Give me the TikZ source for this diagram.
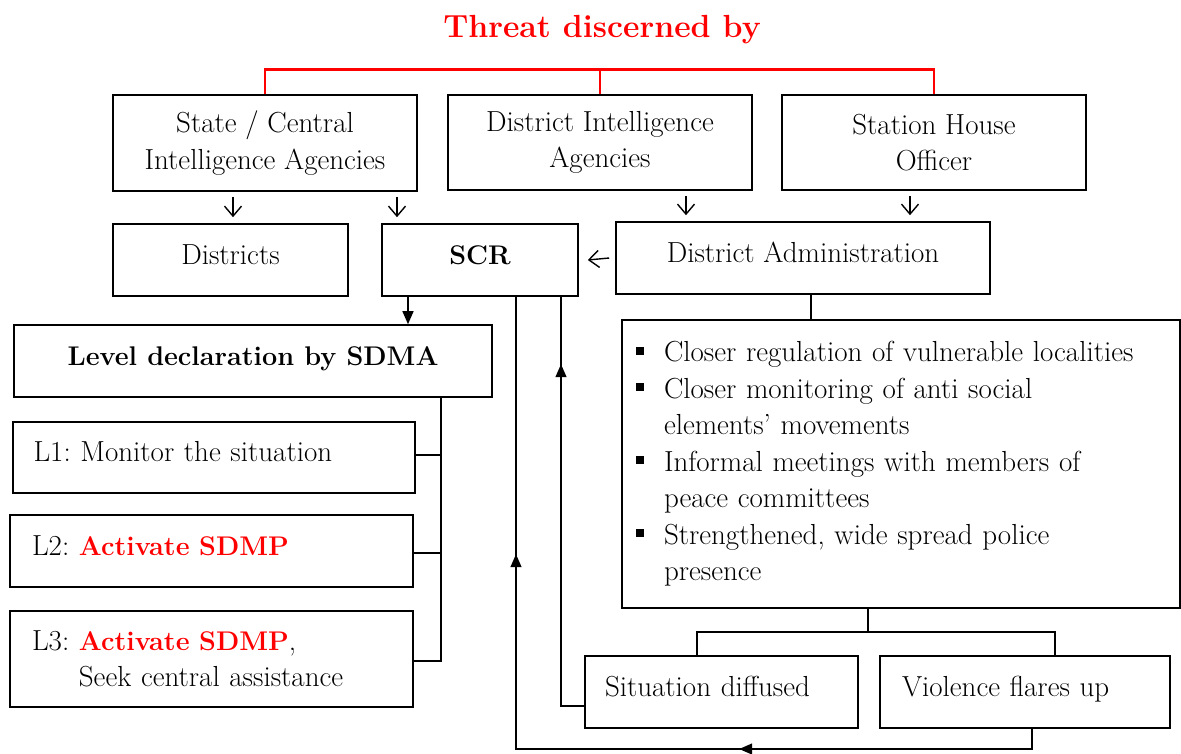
\documentclass[tikz,border=0pt]{standalone}
\usepackage{fontspec}
\usepackage{xcolor}
\usetikzlibrary{arrows.meta, decorations.markings}

\newcommand\bodyfont{\fontsize{29}{36.5}\selectfont\frenchspacing}
\newcommand\boldfont{\fontsize{27}{36.5}\selectfont\bfseries}
\newcommand\sqbullet{\makebox[28pt][l]{\rule[7pt]{8pt}{8pt}}}
\newcommand\actsdmp{\textcolor{red}{\boldfont Activate SDMP}}

\tikzset{
	box/.style={draw, line width=1.6pt, align=center, font=\bodyfont, inner sep=0pt},
	oneline/.style={text height=20pt, text depth=12pt},
	link/.style={line width=1.4pt},
	openarrow/.style={link, -{Straight Barb[length=10pt,width=17pt]}},
	fillarrow/.style={link, -{Triangle[length=13pt,width=11pt]}},
	redlink/.style={line width=2.8pt, red}
}

\begin{document}
\begin{tikzpicture}[x=1pt, y=-1pt]
	\useasboundingbox (0,0) rectangle (1181,753);
	
	\node [font=\fontsize{32}{36}\selectfont\bfseries, text=red] (title) at (602,30) {Threat discerned by};
	
	% who discerns the threat
	\node [box, minimum width=304pt, minimum height=96pt] (sc) at (265,143) {State / Central\\Intelligence Agencies};
	\node [box, minimum width=304pt, minimum height=95pt] (dia) at (600,142.5) {District Intelligence\\Agencies};
	\node [box, minimum width=304pt, minimum height=95pt] (sho) at (934,142.5) {Station House\\Officer};
	
	\node [box, oneline, minimum width=235pt, minimum height=72pt] (districts) at (230.5,260) {Districts};
	\node [box, oneline, minimum width=196pt, minimum height=72pt, font=\boldfont] (scr) at (480,260) {SCR};
	\node [box, oneline, minimum width=374pt, minimum height=72pt] (da) at (803,258) {District Administration};
	
	% levels
	\node [box, oneline, minimum width=478pt, minimum height=72pt, font=\boldfont] (lvl) at (253,361) {Level declaration by SDMA};
	\node [box, oneline, align=left, text width=361pt, inner xsep=20.5pt, minimum height=71pt] (l1) at (214,457.5) {L1: Monitor the situation};
	\node [box, oneline, align=left, text width=359pt, inner xsep=22pt, minimum height=72pt] (l2) at (211.5,551) {L2: \actsdmp};
	\node [box, align=left, text width=359pt, inner xsep=22pt, minimum height=96pt] (l3) at (211.5,659) {L3: \actsdmp,\\\phantom{L3: }Seek central assistance};
	
	% measures
	\node [box, align=left, text width=530pt, inner xsep=14pt, minimum height=288pt] (meas) at (901,464) {\sqbullet Closer regulation of vulnerable localities\\
		\sqbullet Closer monitoring of anti social\\\hspace*{28pt}elements’ movements\\
		\sqbullet Informal meetings with members of\\\hspace*{28pt}peace committees\\
		\sqbullet Strengthened, wide spread police\\\hspace*{28pt}presence};
	
	\node [box, oneline, align=left, text width=233pt, inner xsep=20pt, minimum height=72pt] (sd) at (721.5,692) {Situation diffused};
	\node [box, oneline, align=left, text width=246pt, inner xsep=22pt, minimum height=72pt] (vf) at (1025,692) {Violence flares up};
	
	\coordinate (xd) at (233,0);
	\coordinate (xs) at (397,0);
	\coordinate (xa) at (686,0);
	\coordinate (xb) at (910,0);
	\coordinate (xlvl) at (408,0);
	\coordinate (spine) at (441,0);
	\coordinate (xmeas) at (811,0);
	\coordinate (split) at (868,632);
	\coordinate (fb) at (516,749);
	
	\draw [redlink] (sc.north) -- ++(0,-25) -| (sho.north);
	\draw [redlink] (dia.north) -- ++(0,-25);
	
	\draw [openarrow] ([yshift=-5pt]sc.south -| xd) -- ([yshift=6pt]districts.north -| xd);
	\draw [openarrow] ([yshift=-5pt]sc.south -| xs) -- ([yshift=6pt]scr.north -| xs);
	\draw [openarrow] ([yshift=-5pt]dia.south -| xa) -- ([yshift=6pt]da.north -| xa);
	\draw [openarrow] ([yshift=-5pt]sho.south -| xb) -- ([yshift=6pt]da.north -| xb);
	\draw [openarrow] ([xshift=-6pt]da.west) -- ([xshift=9pt]scr.east);
	
	\draw [fillarrow] (scr.south -| xlvl) -- (lvl.north -| xlvl);
	\draw [link] (lvl.south -| spine) -- ([yshift=-3pt]l3.east -| spine);
	\draw [link] ([yshift=2.5pt]l1.east) -- ([yshift=2.5pt]l1.east -| spine);
	\draw [link] ([yshift=-2pt]l2.east) -- ([yshift=-2pt]l2.east -| spine);
	\draw [link] ([yshift=-2pt]l3.east) -- ([yshift=-2pt]l3.east -| spine);
	
	\draw [link] (da.south -| xmeas) -- (meas.north -| xmeas);
	\draw [link] (meas.south -| split) -- (split);
	\draw [link] ([xshift=-24.5pt]sd.north) |- (split) -| ([xshift=30pt]vf.north);
	
	% feedback to SCR
	\draw [link, postaction={decorate}, decoration={markings,
			mark=at position 313pt with {\arrow{Triangle[length=13pt,width=11pt]}},
			mark=at position 731pt with {\arrow{Triangle[length=13pt,width=11pt]}}}]
		([xshift=7pt]vf.south) |- (fb) -- ([xshift=36pt]scr.south);
	\draw [link, postaction={decorate}, decoration={markings,
			mark=at position 365pt with {\arrow{Triangle[length=13pt,width=11pt]}}}]
		([yshift=-14pt]sd.west) -| ([xshift=81pt]scr.south);
\end{tikzpicture}
\end{document}
